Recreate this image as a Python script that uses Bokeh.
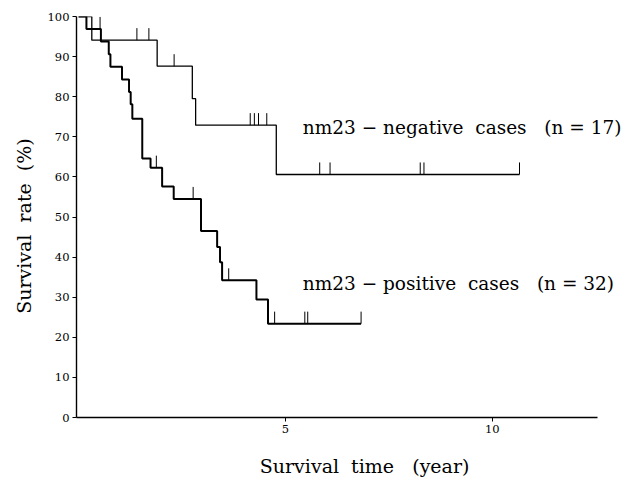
from bokeh.plotting import figure
from bokeh.models import Range1d, FixedTicker, Label
from bokeh.embed import file_html
from bokeh.resources import INLINE

# nm23-negative cases (n = 17): Kaplan-Meier steps (years, %)
neg_time = [0, 0.32, 1.90, 2.75, 2.83, 4.78, 10.66]
neg_surv = [100, 94.1, 87.6, 79.5, 72.9, 60.6, 60.6]
neg_cens_time = [1.41, 1.70, 2.31, 4.15, 4.25, 4.35, 4.55, 5.83, 6.08, 8.26, 8.35, 10.66]
neg_cens_surv = [94.1, 94.1, 87.6, 72.9, 72.9, 72.9, 72.9, 60.6, 60.6, 60.6, 60.6, 60.6]

# nm23-positive cases (n = 32)
pos_time = [0, 0.19, 0.54, 0.73, 0.77, 1.05, 1.22, 1.26, 1.30, 1.54, 1.74, 2.02,
            2.30, 2.96, 3.35, 3.42, 3.47, 4.30, 4.58, 6.83]
pos_surv = [100, 96.9, 93.75, 90.6, 87.5, 84.3, 81.2, 78.1, 74.5, 64.6, 62.3, 57.6,
            54.5, 46.5, 42.5, 38.7, 34.2, 29.4, 23.4, 23.4]
pos_cens_time = [0.52, 1.88, 2.77, 3.63, 4.74, 5.47, 5.54, 6.83]
pos_cens_surv = [96.9, 62.3, 54.5, 34.2, 23.4, 23.4, 23.4, 23.4]

y_ticks = [0, 10, 20, 30, 40, 50, 60, 70, 80, 90, 100]
x_ticks = [5, 10]
x_axis_extent = (-0.05, 12.55)

NB = "\u00a0"
FONT = "DejaVu Serif"

p = figure(width=626, height=481, output_backend="svg", toolbar_location=None,
           x_range=Range1d(-0.05, 13.15), y_range=Range1d(0, 100),
           min_border_left=76, min_border_right=4, min_border_top=16, min_border_bottom=64)
p.outline_line_color = None
p.xgrid.grid_line_color = None
p.ygrid.grid_line_color = None
p.background_fill_color = "white"

p.step(neg_time, neg_surv, mode="after", line_color="black", line_width=1.3)
p.step(pos_time, pos_surv, mode="after", line_color="black", line_width=2.0)

TICK_H = 3.0
p.segment(x0=neg_cens_time, y0=neg_cens_surv, x1=neg_cens_time,
          y1=[s + TICK_H for s in neg_cens_surv], line_color="black", line_width=1)
p.segment(x0=pos_cens_time, y0=pos_cens_surv, x1=pos_cens_time,
          y1=[s + TICK_H for s in pos_cens_surv], line_color="black", line_width=1)

for ax in (p.xaxis[0], p.yaxis[0]):
    ax.axis_line_color = "black"
    ax.axis_line_width = 1.4
    ax.major_tick_line_color = "black"
    ax.major_tick_out = 4
    ax.major_tick_in = 0
    ax.minor_tick_line_color = None
    ax.major_label_text_font = FONT
    ax.major_label_text_font_size = "11.5px"
    ax.major_label_text_color = "black"
    ax.major_label_standoff = 3
    ax.axis_label_text_font = FONT
    ax.axis_label_text_font_style = "normal"
    ax.axis_label_text_font_size = "19px"
    ax.axis_label_text_color = "black"

p.yaxis[0].ticker = FixedTicker(ticks=y_ticks)
p.xaxis[0].ticker = FixedTicker(ticks=x_ticks)
p.xaxis[0].bounds = x_axis_extent
p.yaxis[0].axis_label = "Survival" + NB * 2 + "rate" + NB * 2 + "(%)" + NB * 3
p.yaxis[0].axis_label_standoff = 10
p.xaxis[0].axis_label = NB * 5 + "Survival" + NB * 2 + "time" + NB * 3 + "(year)"
p.xaxis[0].axis_label_standoff = 19

p.add_layout(Label(x=5.42, y=72.3, text="nm23 − negative" + NB * 2 + "cases" + NB * 3 + "(n = 17)",
                   text_font=FONT, text_font_size="18.5px", text_align="left",
                   text_baseline="middle", text_color="black"))
p.add_layout(Label(x=5.42, y=33.4, text="nm23 − positive" + NB * 2 + "cases" + NB * 3 + "(n = 32)",
                   text_font=FONT, text_font_size="18.5px", text_align="left",
                   text_baseline="middle", text_color="black"))

open("out.html", "w").write(file_html(p, INLINE))
